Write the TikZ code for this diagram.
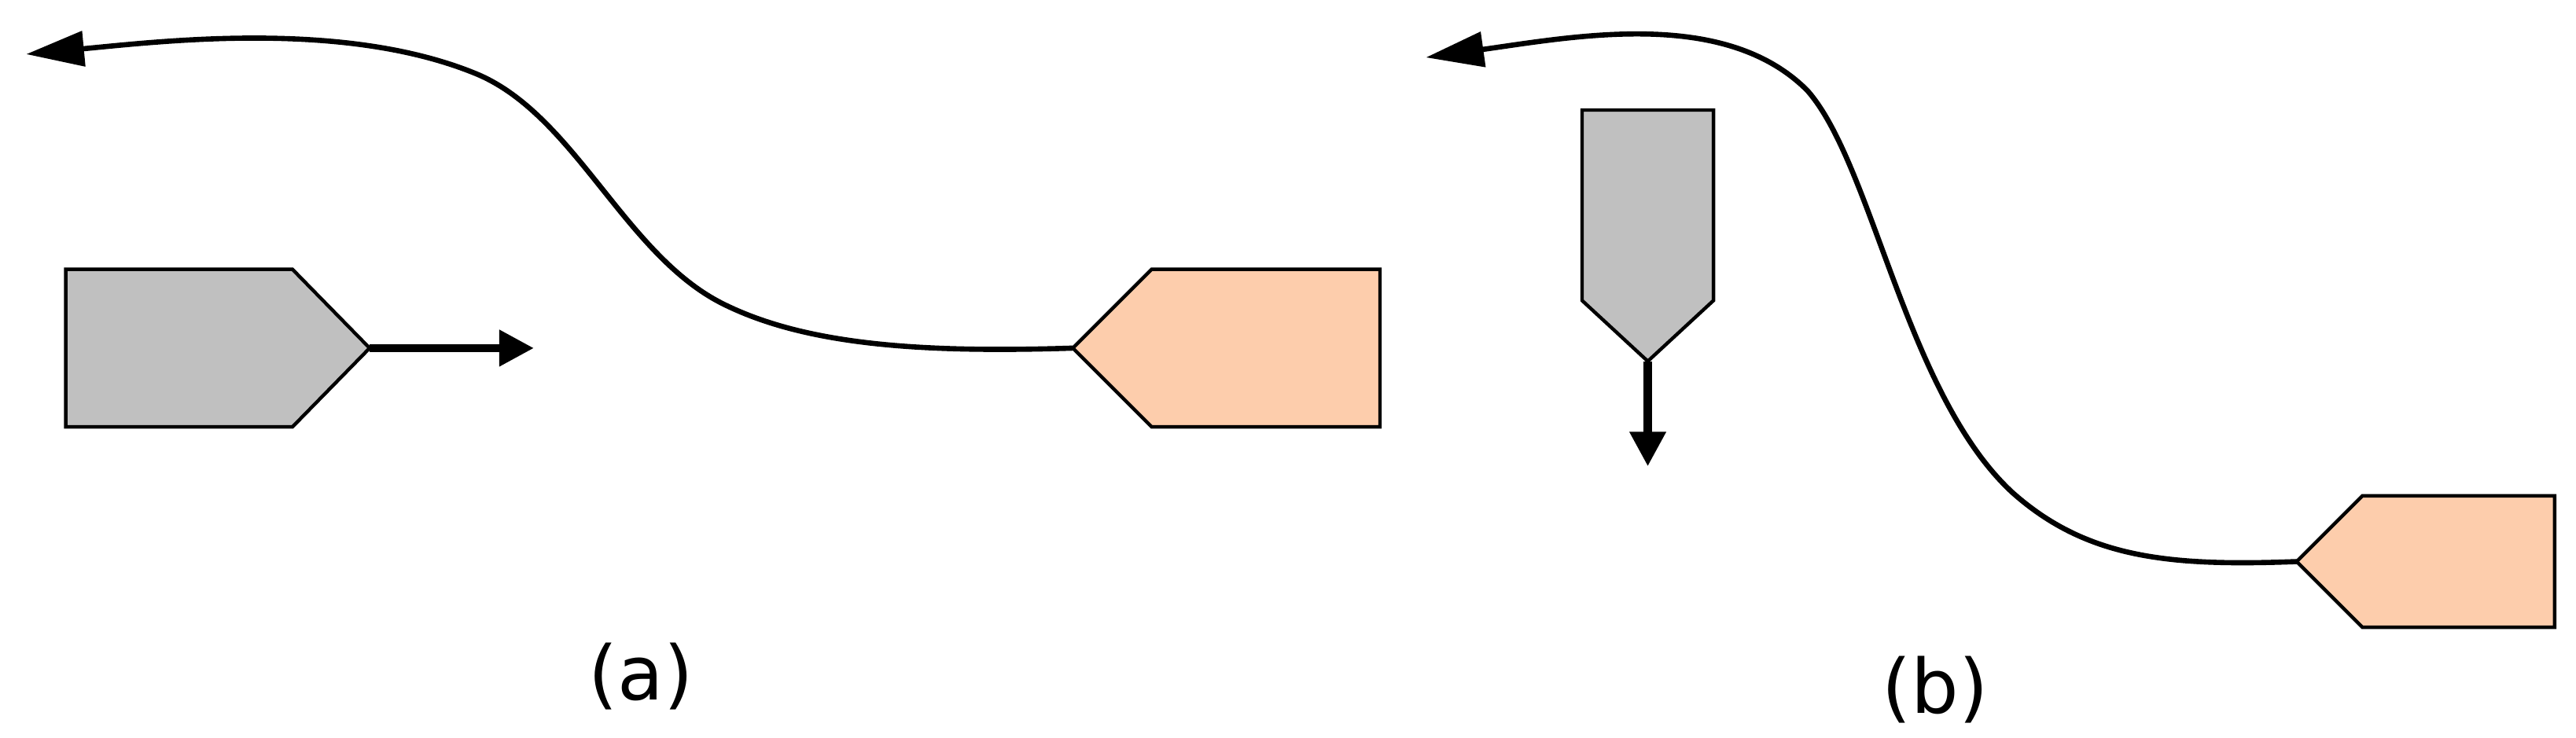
\documentclass[tikz,border=0pt]{standalone}
\usepackage{fontspec}
\setmainfont{DejaVu Sans}
\usetikzlibrary{arrows.meta}
\definecolor{gr}{HTML}{C0C0C0}
\definecolor{orng}{HTML}{FDCDAC}
\tikzset{shp/.style={draw=black,line width=0.6pt},
 curve/.style={line width=0.9pt,-{Triangle[length=10pt,width=6pt]}},
 shaft/.style={line width=1.4pt,-{Triangle[length=6pt,width=6pt]}},
 lbl/.style={font=\fontsize{13}{15}\selectfont}}
\begin{document}
\begin{tikzpicture}[x=0.01cm,y=-0.01cm]
\useasboundingbox (0,0) rectangle (1568,449);
% (a)
\draw[shp,fill=gr] (40,164)--(178,164)--(225,212)--(178,260)--(40,260)--cycle;
\coordinate (ga) at (225,212); \coordinate (gae) at (325,212);
\draw[shaft] (ga)--(gae);
\draw[shp,fill=orng] (840,164)--(701,164)--(653,212)--(701,260)--(840,260)--cycle;
\coordinate (oa) at (653,212); \coordinate (ea) at (16,33);
\draw[curve] (oa) .. controls (560,215) and (490,210) .. (440,185) .. controls (380,155) and (350,70) .. (290,45) .. controls (210,12) and (100,25) .. (ea);
\node[lbl] (la) at (390,412) {(a)};
% (b)
\draw[shp,fill=gr] (963,67)--(1043,67)--(1043,183)--(1003,220)--(963,183)--cycle;
\coordinate (gb) at (1003,220); \coordinate (gbe) at (1003,284);
\draw[shaft] (gb)--(gbe);
\draw[shp,fill=orng] (1555,302)--(1438,302)--(1398,342)--(1438,382)--(1555,382)--cycle;
\coordinate (ob) at (1398,342); \coordinate (eb) at (868,35);
\draw[curve] (ob) .. controls (1320,345) and (1270,340) .. (1225,300) .. controls (1160,240) and (1140,100) .. (1100,55) .. controls (1050,5) and (960,22) .. (eb);
\node[lbl] (lb) at (1178,420) {(b)};
\end{tikzpicture}
\end{document}
